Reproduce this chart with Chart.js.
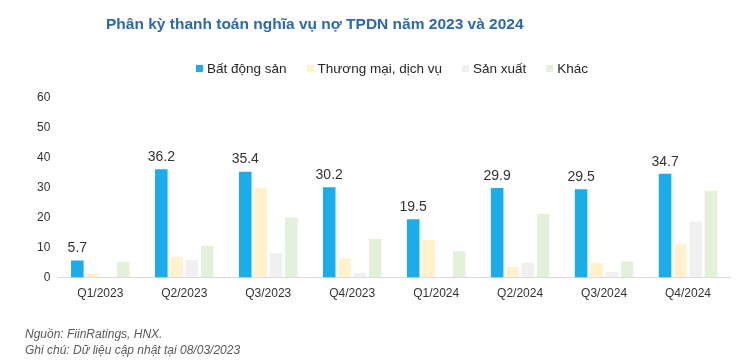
<!DOCTYPE html>
<html>
<head>
<meta charset="utf-8">
<script src="https://cdn.jsdelivr.net/npm/chart.js@4.4.1/dist/chart.umd.min.js"></script>
<style>
  html, body { margin: 0; padding: 0; background: #fff; }
  body { width: 741px; height: 364px; position: relative; overflow: hidden; font-family: "Liberation Sans", Arial, sans-serif; }
  #wrap { position: absolute; left: 0; top: 0; width: 741px; height: 364px; }
  .title { position: absolute; left: 106px; top: 16px; font-size: 15.5px; line-height: 15px; font-weight: bold; color: #2E68AE; white-space: nowrap; }
  #legend { position: absolute; left: 196px; top: 62px; display: flex; font-size: 13.5px; line-height: 13px; color: #262626; white-space: nowrap; }
  #legend .item { display: flex; align-items: center; margin-right: 20px; }
  #legend i { width: 7px; height: 7px; margin-right: 4px; display: inline-block; }
  .note { position: absolute; left: 25px; font-size: 12px; line-height: 12px; font-style: italic; color: #595959; white-space: nowrap; }
</style>
</head>
<body>
<div id="wrap"><canvas id="chart"></canvas></div>
<div class="title">Phân kỳ thanh toán nghĩa vụ nợ TPDN năm 2023 và 2024</div>
<div id="legend"></div>
<div class="note" style="top:328px">Nguồn: FiinRatings, HNX.</div>
<div class="note" style="top:344px">Ghi chú: Dữ liệu cập nhật tại 08/03/2023</div>
<script>
const categories = ['Q1/2023', 'Q2/2023', 'Q3/2023', 'Q4/2023', 'Q1/2024', 'Q2/2024', 'Q3/2024', 'Q4/2024'];
const seriesNames = ['Bất động sản', 'Thương mại, dịch vụ', 'Sản xuất', 'Khác'];
const batDongSan = [5.7, 36.2, 35.4, 30.2, 19.5, 29.9, 29.5, 34.7];
const thuongMai = [1.4, 7.0, 30.0, 6.6, 12.6, 3.6, 5.0, 11.1];
const sanXuat = [0, 5.9, 8.1, 1.5, 0, 5.0, 1.9, 18.7];
const khac = [5.3, 10.6, 20.1, 12.9, 8.8, 21.3, 5.4, 29.0];
const yTicks = [0, 10, 20, 30, 40, 50, 60];

const colors = ['#1AADEA', '#FFF2CC', '#F0F0F0', '#E4F1DA'];
const font = '"Liberation Sans", Arial, sans-serif';

// value labels above the first series only
const valueLabels = {
  id: 'valueLabels',
  afterDatasetsDraw(chart) {
    const ctx = chart.ctx;
    const meta = chart.getDatasetMeta(0);
    ctx.save();
    ctx.font = '14px ' + font;
    ctx.fillStyle = '#333333';
    ctx.textAlign = 'center';
    ctx.textBaseline = 'bottom';
    meta.data.forEach((bar, i) => {
      ctx.fillText(batDongSan[i].toFixed(1), bar.x, bar.y - 5);
    });
    ctx.restore();
  }
};

const chart = new Chart(document.getElementById('chart'), {
  type: 'bar',
  data: {
    labels: categories,
    datasets: [batDongSan, thuongMai, sanXuat, khac].map((d, i) => ({
      label: seriesNames[i],
      data: d,
      backgroundColor: colors[i],
      categoryPercentage: 0.73,
      barPercentage: 0.82
    }))
  },
  options: {
    responsive: true,
    maintainAspectRatio: false,
    animation: false,
    layout: { padding: { top: 98, left: 29, right: 11, bottom: 54 } },
    plugins: {
      legend: { display: false },
      tooltip: { enabled: false }
    },
    scales: {
      x: {
        grid: { display: false, drawTicks: false },
        border: { color: '#D9D9D9', width: 1 },
        ticks: { color: '#333333', font: { family: font, size: 12 }, padding: 9 }
      },
      y: {
        min: 0,
        max: 60,
        afterBuildTicks: (scale) => { scale.ticks = yTicks.map(v => ({ value: v })); },
        grid: { display: false, drawTicks: false },
        border: { display: false },
        ticks: { color: '#333333', font: { family: font, size: 12 }, padding: 8 }
      }
    }
  },
  plugins: [valueLabels]
});

// legend built from the chart's datasets
const legendEl = document.getElementById('legend');
chart.data.datasets.forEach(ds => {
  const item = document.createElement('span');
  item.className = 'item';
  item.innerHTML = '<i style="background:' + ds.backgroundColor + '"></i>' + ds.label;
  legendEl.appendChild(item);
});
</script>
</body>
</html>
